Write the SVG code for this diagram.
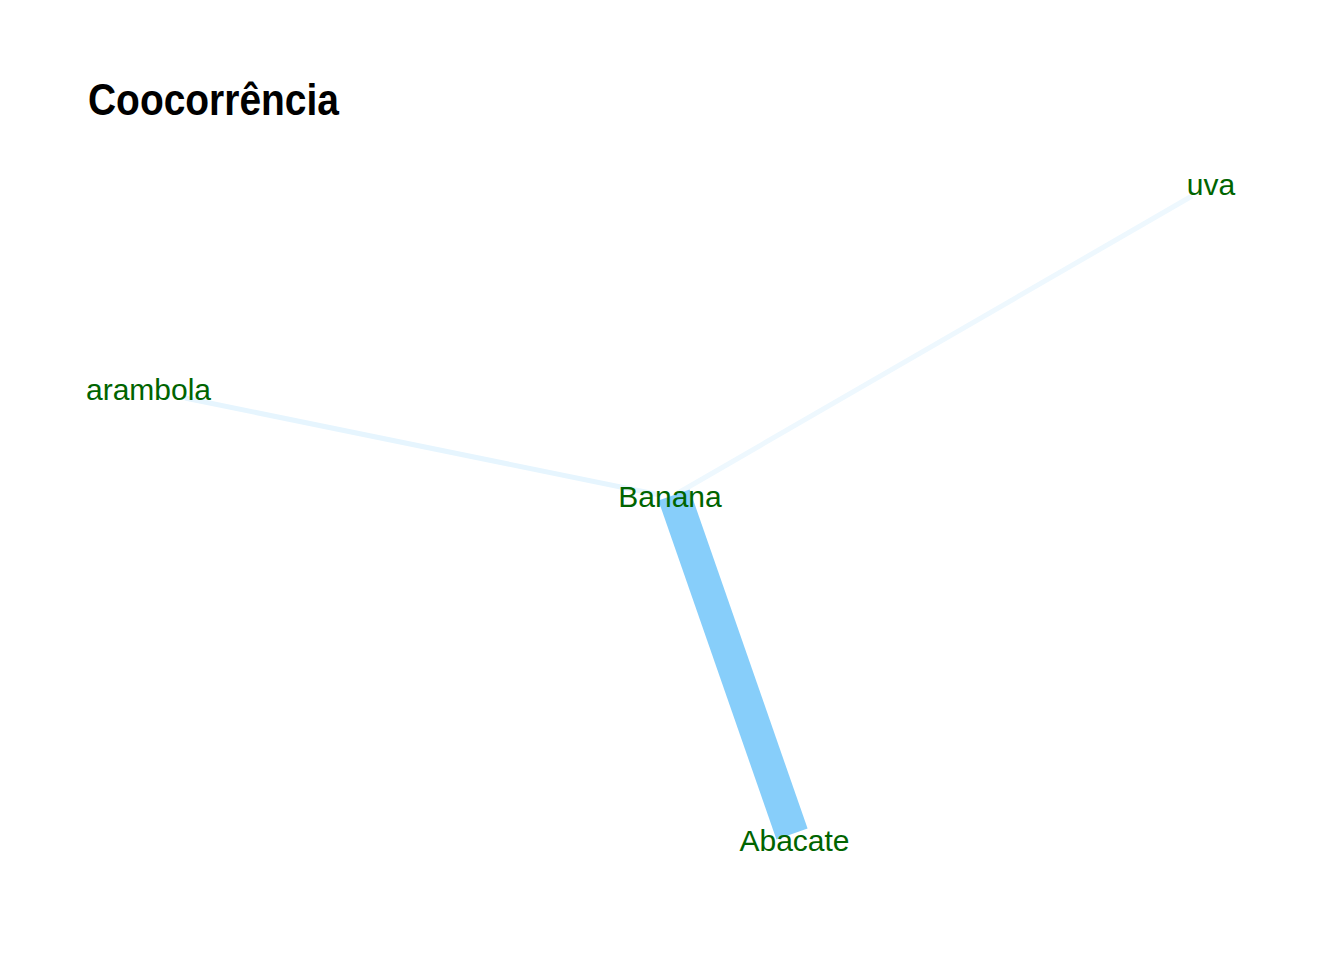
<svg xmlns="http://www.w3.org/2000/svg" width="1344" height="960" viewBox="0 0 1344 960">
<style>
.lbl{font-family:"Liberation Sans",Arial,sans-serif;font-size:30px;fill:#006400;text-anchor:middle}
.title{font-family:"Liberation Sans",Arial,sans-serif;font-size:45px;font-weight:bold;fill:#000}
.e{fill:none;stroke-linecap:butt}
</style>
<rect width="1344" height="960" fill="#fff"/>
<text class="title" x="88" y="115" textLength="251" lengthAdjust="spacingAndGlyphs">Coocorrência</text>
<g id="edges">
<line class="e" x1="185" y1="398" x2="660" y2="495" stroke="#E6F5FE" stroke-width="5"/>
<line class="e" x1="1192" y1="196" x2="678" y2="493" stroke="#EEF8FE" stroke-width="5"/>
<line class="e" x1="674" y1="495" x2="792" y2="834" stroke="#87CEFA" stroke-width="33"/>
</g>
<g id="node-banana"><text class="lbl" x="670" y="507">Banana</text></g>
<g id="node-abacate"><text class="lbl" x="794.5" y="851">Abacate</text></g>
<g id="node-arambola"><text class="lbl" x="148.5" y="400">arambola</text></g>
<g id="node-uva"><text class="lbl" x="1211" y="195">uva</text></g>
</svg>
